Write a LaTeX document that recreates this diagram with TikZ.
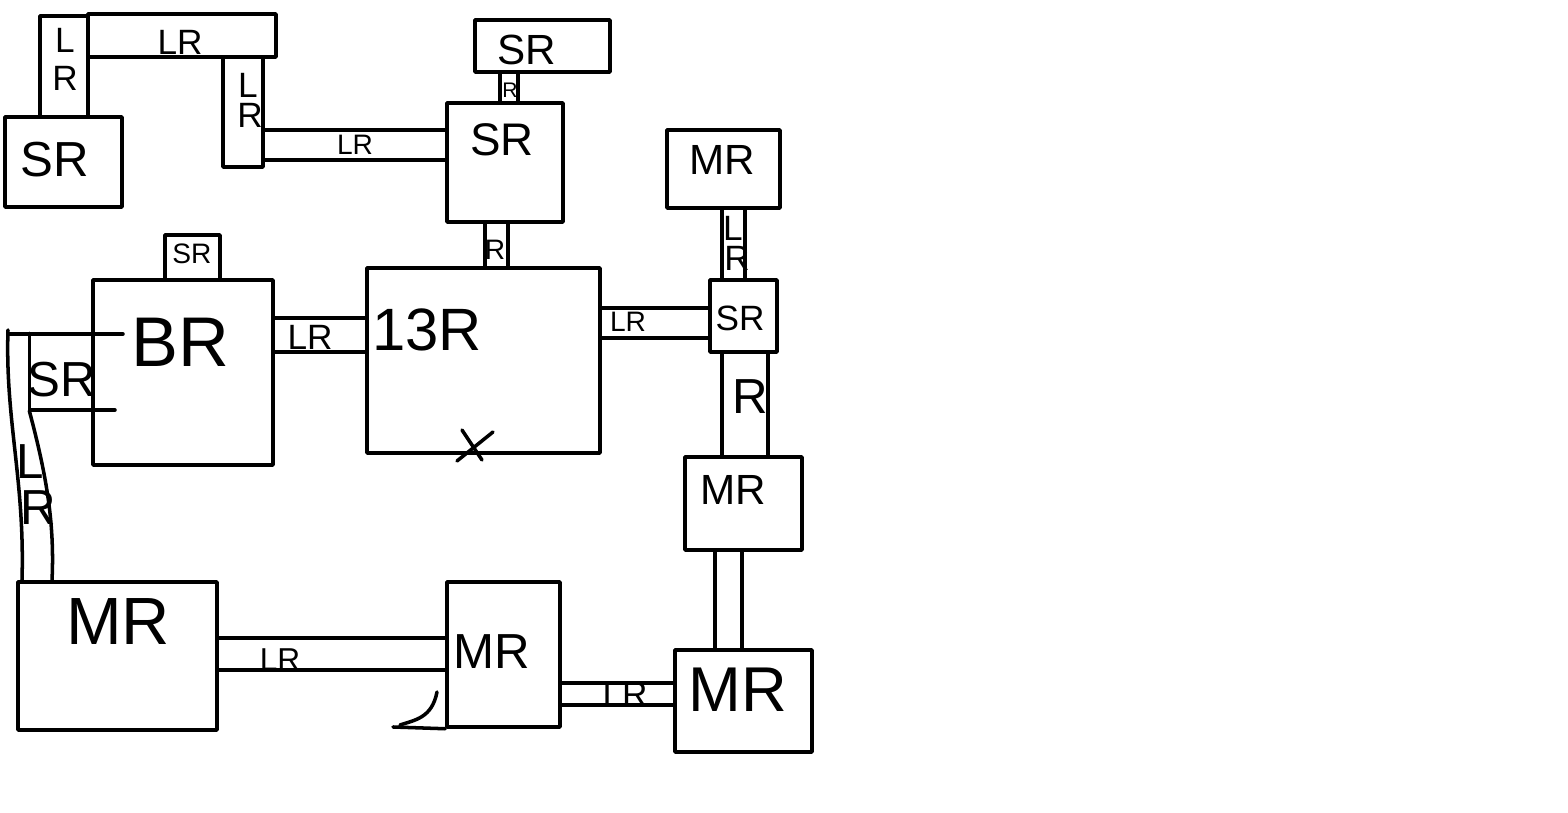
\documentclass[tikz,border=0pt]{standalone}
\usepackage{fontspec}
\setmainfont{Liberation Sans}
\usetikzlibrary{fit}
\tikzset{
  ln/.style={line width=1pt, line cap=round, line join=round},
  box/.style={draw, ln, inner sep=0pt},
  area/.style={inner sep=0pt},
  lbl/.style={inner sep=0pt, font=\fontsize{#1}{#1}\selectfont},
}
\begin{document}
\begin{tikzpicture}[x=0.01cm,y=-0.01cm]
\useasboundingbox[fill=white] (0,0) rectangle (1568,813);

% ---------- boxes ----------
\node[box, fit={(5,117) (122,207)}] (srA) {};
\node[box, fit={(40,16) (88,117)}] (bA) {};
\node[box, fit={(88,14) (276,57)}] (bB) {};
\node[box, fit={(223,57) (263,167)}] (bC) {};
\node[box, fit={(475,20) (610,72)}] (srTop) {};
\node[box, fit={(447,103) (563,222)}] (srMid) {};
\node[box, fit={(367,268) (600,453)}] (tr) {};
\node[box, fit={(667,130) (780,208)}] (mrTR) {};
\node[box, fit={(710,280) (777,352)}] (srR) {};
\node[box, fit={(685,457) (802,550)}] (mrRM) {};
\node[box, fit={(675,650) (812,752)}] (mrBR) {};
\node[box, fit={(447,582) (560,727)}] (mrBM) {};
\node[box, fit={(18,582) (217,730)}] (mrBL) {};
\node[box, fit={(93,280) (273,465)}] (brL) {};
\node[box, fit={(165,235) (220,280)}] (srTiny) {};
\node[area, fit={(30,334) (100,410)}] (srL) {};

% small SR at left of BR (open on the right, lines run into BR)
\draw[ln] (8,334) -- (123,334);
\draw[ln] (30,410) -- (115,410);
\draw[ln] (srL.north west) -- (srL.south west);

% ---------- connectors (bands) ----------
\draw[ln] (bC.east |- 0,130) -- (srMid.west |- 0,130);
\draw[ln] (bC.east |- 0,160) -- (srMid.west |- 0,160);
\draw[ln] (srTop.south -| 500,0) -- (srMid.north -| 500,0);
\draw[ln] (srTop.south -| 518,0) -- (srMid.north -| 518,0);
\draw[ln] (srMid.south -| 485,0) -- (tr.north -| 485,0);
\draw[ln] (srMid.south -| 508,0) -- (tr.north -| 508,0);
\draw[ln] (tr.east |- 0,308) -- (srR.west |- 0,308);
\draw[ln] (tr.east |- 0,338) -- (srR.west |- 0,338);
\draw[ln] (mrTR.south -| 722,0) -- (srR.north -| 722,0);
\draw[ln] (mrTR.south -| 745,0) -- (srR.north -| 745,0);
\draw[ln] (srR.south -| 722,0) -- (mrRM.north -| 722,0);
\draw[ln] (srR.south -| 768,0) -- (mrRM.north -| 768,0);
\draw[ln] (mrRM.south -| 715,0) -- (mrBR.north -| 715,0);
\draw[ln] (mrRM.south -| 742,0) -- (mrBR.north -| 742,0);
\draw[ln] (mrBM.east |- 0,683) -- (mrBR.west |- 0,683);
\draw[ln] (mrBM.east |- 0,705) -- (mrBR.west |- 0,705);
\draw[ln] (mrBL.east |- 0,638) -- (mrBM.west |- 0,638);
\draw[ln] (mrBL.east |- 0,670) -- (mrBM.west |- 0,670);
\draw[ln] (brL.east |- 0,318) -- (tr.west |- 0,318);
\draw[ln] (brL.east |- 0,352) -- (tr.west |- 0,352);
\coordinate (lbTop) at (8,330);
\draw[ln] (lbTop) .. controls (5,420) and (25,480) .. (mrBL.north -| 22,0);
\draw[ln] (srL.south west) .. controls (45,470) and (55,520) .. (mrBL.north -| 52,0);

% curl at the foot of the bottom-middle MR
\coordinate (curl) at (393,727);
\draw[ln] (mrBM.south west) -- (curl);
\draw[ln] (437,692) .. controls (432,718) and (415,720) .. (400,725);

% X mark on 13R
\draw[ln] (462,430) -- (482,460);
\draw[ln] (493,432) -- (457,461);

% ---------- labels ----------
\node[lbl=10] (lA1) at (65,40) {L};
\node[lbl=10] (lA2) at (65,78) {R};
\node[lbl=10] (lB) at (180,42) {LR};
\node[lbl=10] (lC1) at (248,85) {L};
\node[lbl=10] (lC2) at (250,115) {R};
\node[lbl=14] (lsrA) at (55,160) {SR};
\node[lbl=8] (lD) at (355,145) {LR};
\node[lbl=12] (lsrTop) at (527,50) {SR};
\node[lbl=6] (lE) at (510,90) {R};
\node[lbl=13] (lsrMid) at (502,140) {SR};
\node[lbl=8] (lF) at (495,250) {R};
\node[lbl=17] (ltr) at (427,330) {13R};
\node[lbl=8] (lG) at (628,322) {LR};
\node[lbl=12] (lmrTR) at (722,160) {MR};
\node[lbl=10] (lH1) at (733,228) {L};
\node[lbl=10] (lH2) at (737,258) {R};
\node[lbl=10] (lsrR) at (740,318) {SR};
\node[lbl=14] (lI) at (750,397) {R};
\node[lbl=12] (lmrRM) at (733,490) {MR};
\node[lbl=18] (lmrBR) at (738,690) {MR};
\node[lbl=14] (lmrBM) at (492,652) {MR};
\node[lbl=10] (lJ) at (625,694) {LR};
\node[lbl=9] (lK) at (280,660) {LR};
\node[lbl=19] (lmrBL) at (118,622) {MR};
\node[lbl=14] (lL1) at (30,462) {L};
\node[lbl=14] (lL2) at (38,508) {R};
\node[lbl=14] (lsrL) at (62,380) {SR};
\node[lbl=20] (lbrL) at (180,342) {BR};
\node[lbl=8] (lsrTiny) at (192,254) {SR};
\node[lbl=10] (lM) at (310,337) {LR};
\end{tikzpicture}
\end{document}
